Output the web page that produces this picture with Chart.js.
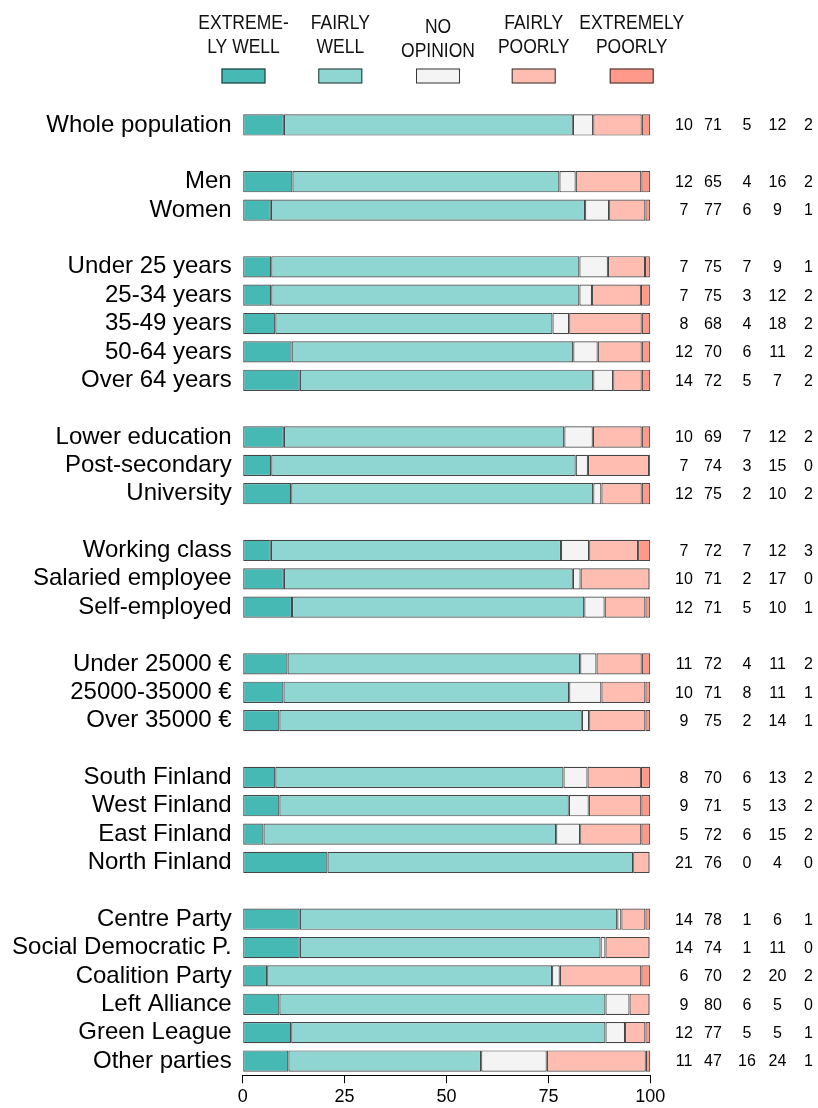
<!DOCTYPE html>
<html><head><meta charset="utf-8">
<script src="https://cdn.jsdelivr.net/npm/chart.js@4"></script>
<style>html,body{margin:0;padding:0;background:#fff}#wrap{width:818px;height:1108px}</style>
</head><body><div id="wrap"><canvas id="c" width="818" height="1108"></canvas></div>
<script>
const categories = ['Whole population','','Men','Women','','Under 25 years','25-34 years','35-49 years','50-64 years','Over 64 years','',
  'Lower education','Post-secondary','University','','Working class','Salaried employee','Self-employed','',
  'Under 25000 €','25000-35000 €','Over 35000 €','','South Finland','West Finland','East Finland','North Finland','',
  'Centre Party','Social Democratic P.','Coalition Party','Left Alliance','Green League','Other parties'];

const seriesNames = ['Extremely well','Fairly well','No opinion','Fairly poorly','Extremely poorly'];
const legendLines = [['EXTREME-','LY WELL'],['FAIRLY','WELL'],['NO','OPINION'],['FAIRLY','POORLY'],['EXTREMELY','POORLY']];

const extremelyWell   = [10.1,null,12.2,6.9,null,7.0,7.0,8.0,12.0,14.0,null,10.1,7.0,11.9,null,6.9,10.1,12.1,null,11.0,10.0,9.0,null,8.0,9.0,5.1,20.8,null,14.0,14.0,6.0,9.0,11.9,11.2];
const fairlyWell      = [70.9,null,65.5,77.1,null,75.6,75.6,68.0,69.1,72.0,null,68.8,74.7,74.1,null,71.2,70.9,71.7,null,71.8,70.1,74.2,null,70.7,71.0,71.8,75.0,null,77.9,73.8,69.9,80.0,77.1,47.3];
const noOpinion       = [5.0,null,4.0,5.9,null,7.0,3.1,4.1,6.0,4.9,null,7.0,3.0,2.0,null,6.9,1.9,5.0,null,4.0,7.9,1.8,null,5.9,4.9,5.9,0.0,null,1.0,1.2,1.9,5.9,4.8,16.1];
const fairlyPoorly    = [11.9,null,16.1,8.9,null,9.1,12.0,17.8,10.8,7.0,null,12.0,15.0,9.9,null,12.0,16.9,10.0,null,11.1,10.8,13.8,null,13.1,12.9,15.0,4.0,null,5.9,10.8,20.0,4.9,5.0,24.3];
const extremelyPoorly = [2.1,null,2.2,1.2,null,1.2,2.2,2.1,2.1,2.1,null,2.1,0.3,2.1,null,3.0,0.2,1.2,null,2.1,1.2,1.2,null,2.3,2.2,2.2,0.2,null,1.2,0.2,2.2,0.2,1.2,1.1];

// Rounded figures printed at the right of each bar
const shownExtremelyWell   = ['10','','12','7','','7','7','8','12','14','','10','7','12','','7','10','12','','11','10','9','','8','9','5','21','','14','14','6','9','12','11'];
const shownFairlyWell      = ['71','','65','77','','75','75','68','70','72','','69','74','75','','72','71','71','','72','71','75','','70','71','72','76','','78','74','70','80','77','47'];
const shownNoOpinion       = ['5','','4','6','','7','3','4','6','5','','7','3','2','','7','2','5','','4','8','2','','6','5','6','0','','1','1','2','6','5','16'];
const shownFairlyPoorly    = ['12','','16','9','','9','12','18','11','7','','12','15','10','','12','17','10','','11','11','14','','13','13','15','4','','6','11','20','5','5','24'];
const shownExtremelyPoorly = ['2','','2','1','','1','2','2','2','2','','2','0','2','','3','0','1','','2','1','1','','2','2','2','0','','1','0','2','0','1','1'];

const xTicks = [0,25,50,75,100];
const colors = ['#47b9b5','#8fd6d3','#f4f4f4','#ffbcb0','#ff9a8b'];

const FONT = '"Liberation Sans", Arial, sans-serif';

const seriesData = [extremelyWell, fairlyWell, noOpinion, fairlyPoorly, extremelyPoorly];
const shownData = [shownExtremelyWell, shownFairlyWell, shownNoOpinion, shownFairlyPoorly, shownExtremelyPoorly];

const sidePlugin = {
  id: 'side',
  afterDraw(chart) {
    const ctx = chart.ctx, y = chart.scales.y, area = chart.chartArea;
    ctx.save();
    // right-hand figures
    ctx.fillStyle = '#000';
    ctx.font = '16px ' + FONT;
    ctx.textAlign = 'center';
    ctx.textBaseline = 'middle';
    const colOff = [33.7, 62.7, 96.7, 127.2, 158.2];
    categories.forEach((c, i) => {
      if (!c) return;
      const py = y.getPixelForValue(i);
      shownData.forEach((arr, k) => ctx.fillText(arr[i], area.right + colOff[k], py + 1));
    });
    // legend (condensed lettering)
    const centers = [243.5, 340.3, 438, 533.7, 631.7];
    const sx = 0.875;
    legendLines.forEach((lines, k) => {
      const dy = k === 2 ? 4 : 0;
      ctx.save();
      ctx.scale(sx, 1);
      ctx.font = '20px ' + FONT;
      ctx.fillStyle = '#111';
      ctx.fillText(lines[0], centers[k] / sx, 23.5 + dy);
      ctx.fillText(lines[1], centers[k] / sx, 47 + dy);
      ctx.restore();
      ctx.fillStyle = colors[k];
      ctx.fillRect(centers[k] - 22, 68.5, 44, 15);
      ctx.strokeStyle = 'rgba(20,20,20,0.85)';
      ctx.lineWidth = 1;
      ctx.strokeRect(centers[k] - 22 + 0.5, 68.5 + 0.5, 43, 14);
    });
    ctx.restore();
  }
};

new Chart(document.getElementById('c'), {
  type: 'bar',
  data: {
    labels: categories,
    datasets: seriesData.map((d, k) => ({
      label: seriesNames[k],
      data: d,
      backgroundColor: colors[k],
      borderColor: 'rgba(0,0,0,0.72)',
      borderWidth: 1.2,
      borderSkipped: false,
      barPercentage: 0.75,
      categoryPercentage: 1.0
    }))
  },
  options: {
    indexAxis: 'y',
    responsive: false,
    animation: false,
    layout: { padding: { left: 0, right: 167.7, top: 110.8, bottom: 0 } },
    plugins: { legend: { display: false }, tooltip: { enabled: false } },
    scales: {
      x: {
        stacked: true, min: 0, max: 100,
        afterBuildTicks(s) { s.ticks = xTicks.map(v => ({ value: v })); },
        ticks: { color: '#000', font: { family: FONT, size: 18 }, padding: 3 },
        grid: { display: true, drawOnChartArea: false, drawTicks: true, tickLength: 8, color: '#000', lineWidth: 1 },
        border: { display: true, color: '#000', width: 1 },
        afterFit(s) { s.height = 32.8; }
      },
      y: {
        stacked: true,
        ticks: { color: '#000', font: { family: FONT, size: 24 }, padding: 11, autoSkip: false },
        grid: { display: false, drawTicks: false },
        border: { display: false },
        afterFit(s) { s.width = 242.7; }
      }
    }
  },
  plugins: [sidePlugin]
});
</script>
</body></html>
